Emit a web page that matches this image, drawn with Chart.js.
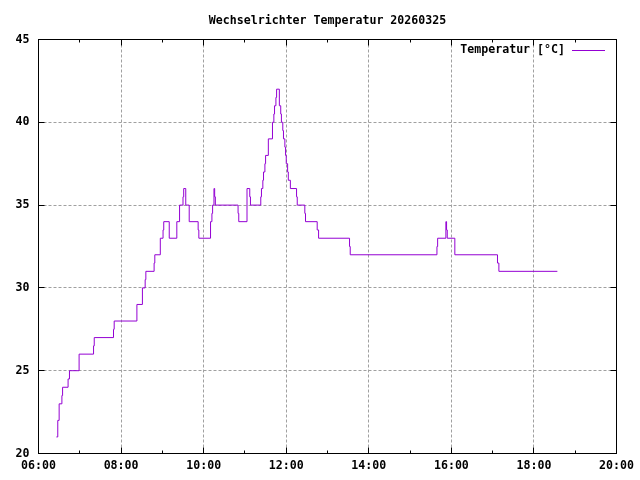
<!DOCTYPE html>
<html><head><meta charset="utf-8">
<script src="https://cdn.jsdelivr.net/npm/chart.js@4.4.0/dist/chart.umd.min.js"></script>
<style>html,body{margin:0;padding:0;background:#fff;}#wrap{width:640px;height:480px;}</style>
</head><body><div id="wrap"><canvas id="c" width="640" height="480"></canvas></div>
<script>
const chartTitle = 'Wechselrichter Temperatur 20260325';
const seriesLabel = 'Temperatur [°C]';
const xTickLabels = ['06:00','08:00','10:00','12:00','14:00','16:00','18:00','20:00'];
const yTickValues = [20,25,30,35,40,45];
const sampleTimes = [
 '06:26','06:28','06:30','06:34','06:35','06:43','06:45','06:59','07:20','07:21',
 '07:49','07:50','08:23','08:31','08:35','08:36','08:48','08:49','08:57','09:01',
 '09:02','09:10','09:21','09:25','09:30','09:31','09:34','09:39','09:52','09:53',
 '10:10','10:12','10:13','10:15','10:16','10:17','10:50','10:51','11:03','11:07',
 '11:08','11:23','11:24','11:26','11:27','11:29','11:30','11:34','11:40','11:42',
 '11:43','11:45','11:46','11:50','11:52','11:53','11:55','11:56','11:58','11:59',
 '12:00','12:02','12:03','12:06','12:15','12:16','12:27','12:28','12:45','12:47',
 '13:32','13:33','15:39','15:40','15:52','15:53','15:54','16:05','17:07','17:09',
 '18:34'
];
const temperatures = [
 21,22,23,23.5,24,24.5,25,26,26.5,27,
 27.5,28,29,30,30.5,31,31.5,32,33,33.5,
 34,33,34,35,35.5,36,35,34,33.5,33,
 34,34.5,35,36,35.5,35,34.5,34,36,35.5,
 35,35.5,36,36.5,37,37.5,38,39,40,40.5,
 41,41.5,42,41,40.5,40,39.5,39,38.5,38,
 37.5,37,36.5,36,35.5,35,34.5,34,33.5,33,
 32.5,32,32.5,33,34,33.5,33,32,31.5,31,
 31
];

function toMin(s){ const p = s.split(':'); return (+p[0])*60 + (+p[1]); }
const FONT = 'bold 11.6px "DejaVu Sans Mono"';
const snap = v => Math.round(v - 0.5) + 0.5;

const framePlugin = {
  id: 'frame',
  beforeDatasetsDraw(chart){
    const {ctx, chartArea: a, scales: {x, y}} = chart;
    ctx.save();
    ctx.strokeStyle = '#a0a0a0';
    ctx.lineWidth = 1;
    ctx.setLineDash([3,2]);
    x.ticks.forEach(t => {
      const px = snap(x.getPixelForValue(t.value));
      if (t.value <= x.min || t.value >= x.max) return;
      ctx.beginPath(); ctx.moveTo(px, a.top); ctx.lineTo(px, a.bottom); ctx.stroke();
    });
    y.ticks.forEach(t => {
      const py = snap(y.getPixelForValue(t.value));
      if (t.value <= y.min || t.value >= y.max) return;
      ctx.beginPath(); ctx.moveTo(a.left, py); ctx.lineTo(a.right, py); ctx.stroke();
    });
    ctx.restore();
  },
  afterDatasetsDraw(chart){
    const {ctx, chartArea: a, scales: {x, y}} = chart;
    const L = snap(a.left), R = snap(a.right), T = snap(a.top), B = snap(a.bottom);
    ctx.save();
    ctx.setLineDash([]);
    ctx.strokeStyle = '#000';
    ctx.lineWidth = 1;
    ctx.strokeRect(L, T, R - L, B - T);
    ctx.beginPath();
    for (let v = x.min; v <= x.max; v += 60) {
      const px = snap(x.getPixelForValue(v));
      const len = ((v - x.min) % 120 === 0) ? 6 : 3;
      ctx.moveTo(px, B); ctx.lineTo(px, B - len);
      ctx.moveTo(px, T); ctx.lineTo(px, T + len);
    }
    y.ticks.forEach(t => {
      const py = snap(y.getPixelForValue(t.value));
      ctx.moveTo(L, py); ctx.lineTo(L + 6, py);
      ctx.moveTo(R, py); ctx.lineTo(R - 6, py);
    });
    ctx.stroke();
    // title
    ctx.fillStyle = '#000';
    ctx.font = FONT;
    ctx.textAlign = 'center';
    ctx.textBaseline = 'middle';
    ctx.fillText(chartTitle, (a.left + a.right) / 2, 21);
    // legend
    ctx.textAlign = 'right';
    ctx.fillText(seriesLabel, 565, 50);
    ctx.strokeStyle = chart.data.datasets[0].borderColor;
    ctx.beginPath(); ctx.moveTo(572, 50.5); ctx.lineTo(605, 50.5); ctx.stroke();
    ctx.restore();
  }
};

new Chart(document.getElementById('c'), {
  type: 'line',
  data: {
    datasets: [{
      label: seriesLabel,
      data: sampleTimes.map((t, i) => ({x: toMin(t), y: temperatures[i]})),
      borderColor: '#9400d3',
      borderWidth: 1,
      pointRadius: 0,
      stepped: 'before',
      fill: false,
      tension: 0
    }]
  },
  options: {
    responsive: false,
    animation: false,
    devicePixelRatio: 1,
    layout: {padding: {top: 39.5, right: 21.5, left: 0, bottom: 0}},
    plugins: {legend: {display: false}, title: {display: false}, tooltip: {enabled: false}},
    scales: {
      x: {
        type: 'linear', min: 360, max: 1200,
        grid: {display: false, drawTicks: false},
        border: {display: false},
        ticks: {
          stepSize: 120, autoSkip: false, maxRotation: 0, padding: 6,
          color: '#000', font: {family: 'DejaVu Sans Mono', size: 11.6, weight: 'bold'},
          callback: v => xTickLabels[(v - 360) / 120]
        },
        afterFit: s => { s.height = 26.5; }
      },
      y: {
        min: 20, max: 45,
        grid: {display: false, drawTicks: false},
        border: {display: false},
        ticks: {
          stepSize: 5, padding: 9,
          color: '#000', font: {family: 'DejaVu Sans Mono', size: 11.6, weight: 'bold'},
          callback: v => yTickValues.includes(v) ? String(v) : ''
        },
        afterFit: s => { s.width = 38.5; }
      }
    }
  },
  plugins: [framePlugin]
});
</script></body></html>
